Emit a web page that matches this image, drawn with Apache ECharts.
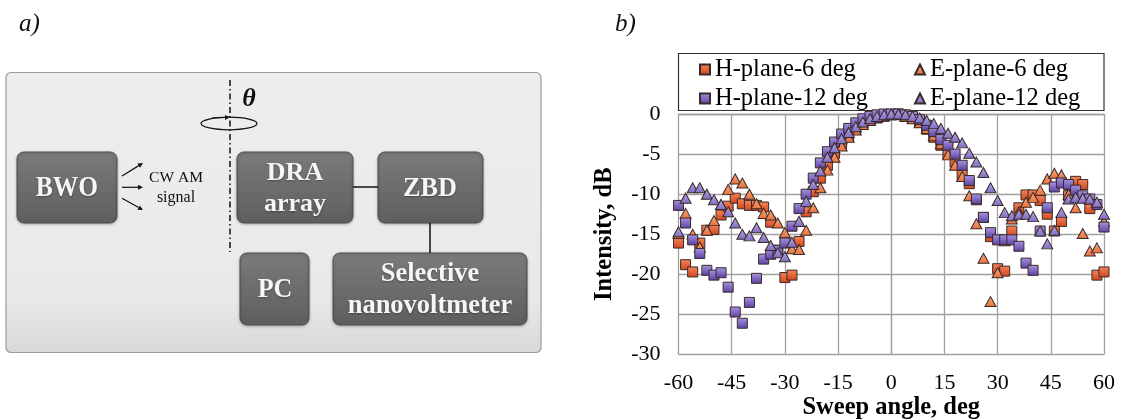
<!DOCTYPE html>
<html><head><meta charset="utf-8">
<script src="https://cdn.jsdelivr.net/npm/echarts@6/dist/echarts.min.js"></script>
<style>html,body{margin:0;padding:0;background:#fff}#c{width:1121px;height:419px}</style>
</head><body><div id="c"></div>
<script>
// ---- data (sweep angle in deg, intensity in dB) ----
const angles = [-60,-58,-56,-54,-52,-50,-48,-46,-44,-42,-40,-38,-36,-34,-32,-30,-28,-26,-24,-22,-20,-18,-16,-14,-12,-10,-8,-6,-4,-2,0,2,4,6,8,10,12,14,16,18,20,22,24,26,28,30,32,34,36,38,40,42,44,46,48,50,52,54,56,58,60];
const hPlane6 = [-16.1,-18.8,-19.7,-16.1,-14.5,-14.4,-12.6,-11.5,-10.5,-11.2,-11.4,-11.4,-11.6,-13.5,-17.0,-20.4,-20.1,-15.9,-12.2,-9.7,-8.0,-6.4,-4.9,-3.7,-2.7,-1.8,-1.1,-0.7,-0.5,-0.3,-0.1,0,-0.2,-0.5,-1.0,-1.9,-2.9,-3.9,-5.0,-6.0,-7.6,-8.7,-10.7,-12.9,-15.3,-19.3,-19.6,-14.6,-11.7,-10.1,-10.1,-10.8,-12.5,-14.6,-13.4,-10.2,-8.4,-8.8,-11.8,-20.1,-19.7];
const ePlane6 = [-14.9,-12.4,-15.0,-16.6,-14.5,-13.3,-11.3,-9.4,-8.1,-8.6,-10.0,-11.2,-12.4,-12.6,-13.6,-14.8,-16.8,-16.9,-14.5,-11.7,-9.2,-7.0,-5.4,-4.0,-2.9,-2.0,-1.3,-0.8,-0.4,-0.2,0,-0.1,-0.3,-0.6,-1.1,-1.8,-2.7,-3.7,-5.1,-6.4,-7.8,-10.2,-13.7,-18.0,-23.4,-19.8,-15.8,-13.1,-12.2,-11.0,-10.4,-9.5,-8.1,-7.4,-7.6,-10.0,-11.7,-14.9,-17.1,-16.7,-13.4];
const hPlane12 = [-11.4,-13.6,-15.7,-17.4,-19.5,-20.1,-19.8,-21.6,-24.7,-26.1,-23.5,-20.5,-18.1,-17.5,-17.0,-16.1,-14.0,-11.8,-10.0,-8.0,-6.1,-4.7,-3.5,-2.5,-1.8,-1.1,-0.6,-0.3,-0.1,0,0,0,-0.1,-0.3,-0.7,-1.4,-2.2,-3.2,-3.9,-5.0,-6.4,-8.3,-10.6,-12.9,-14.8,-15.7,-15.7,-15.7,-16.5,-18.6,-19.5,-14.6,-11.7,-9.1,-8.6,-8.8,-9.5,-10.2,-10.6,-11.3,-14.1];
const ePlane12 = [-14.7,-10.5,-9.2,-9.2,-10.0,-10.7,-11.3,-12.2,-13.6,-15.0,-15.2,-14.2,-15.4,-16.4,-17.3,-17.8,-16.0,-13.4,-10.9,-8.8,-7.1,-5.4,-4.2,-3.1,-2.3,-1.6,-1.0,-0.6,-0.3,-0.1,0,0,-0.1,-0.3,-0.5,-0.8,-1.2,-1.8,-2.4,-2.9,-3.6,-4.9,-6.0,-7.3,-9.2,-10.8,-12.3,-12.7,-12.5,-12.5,-12.8,-14.6,-16.2,-14.5,-12.3,-10.6,-10.4,-10.5,-10.6,-11.0,-12.5];
const seriesNames = ['H-plane-6 deg','E-plane-6 deg','H-plane-12 deg','E-plane-12 deg'];

const pairs = vals => angles.map((a, i) => [a, vals[i]]);
const grad = (c0, c1) => ({type:'linear', x:0, y:0, x2:0, y2:1, colorStops:[{offset:0,color:c0},{offset:1,color:c1}]});
const FONT = "'Liberation Serif', 'Times New Roman', serif";
const border = '#3a2a2a';

// ---- block diagram (panel a) ----
const boxFill = grad('#7b7b7b', '#5e5e5e');
function box(x, y, w, h) {
  return {type:'rect', shape:{x, y, width:w, height:h, r:7}, style:{fill:boxFill, stroke:'#4e4e4e', lineWidth:1, shadowBlur:3, shadowColor:'rgba(0,0,0,0.25)', shadowOffsetY:1}};
}
function label(t, x, y, size, sx) {
  return {type:'text', x, y, scaleX:sx, style:{text:t, x:0, y:0, font:'bold ' + size + 'px ' + FONT, fill:'#f6f6f6', textAlign:'center', textVerticalAlign:'middle', textShadowColor:'rgba(0,0,0,0.35)', textShadowBlur:2, textShadowOffsetY:1}};
}
function arrow(x1, y1, x2, y2) {
  const ang = Math.atan2(y2 - y1, x2 - x1), L = 5, W = 2.5;
  const bx = x2 - L * Math.cos(ang), by = y2 - L * Math.sin(ang);
  return [
    {type:'line', shape:{x1, y1, x2:bx, y2:by}, style:{stroke:'#111', lineWidth:1.2}},
    {type:'polygon', shape:{points:[[x2,y2],[bx - W*Math.sin(ang), by + W*Math.cos(ang)],[bx + W*Math.sin(ang), by - W*Math.cos(ang)]]}, style:{fill:'#111'}}
  ];
}
const graphics = [
  {type:'text', style:{text:'a)', x:19, y:24, font:'italic 25px ' + FONT, fill:'#111', textVerticalAlign:'middle'}},
  {type:'text', style:{text:'b)', x:615, y:24, font:'italic 25px ' + FONT, fill:'#111', textVerticalAlign:'middle'}},
  {type:'rect', shape:{x:6, y:72.5, width:535, height:280, r:5}, style:{fill:{type:'linear',x:0,y:0,x2:0,y2:1,colorStops:[{offset:0,color:'#eeeeee'},{offset:0.8,color:'#e9e9e9'},{offset:1,color:'#d8d8d8'}]}, stroke:'#9c9c9c', lineWidth:1.2}},
  box(17, 152, 100, 71),
  box(237, 152, 116, 71),
  box(378, 152, 105, 71),
  box(240, 253, 69, 72),
  box(333, 253, 194, 72),
  {type:'line', shape:{x1:353, y1:187, x2:378, y2:187}, style:{stroke:'#111', lineWidth:1.5}},
  {type:'line', shape:{x1:430, y1:223, x2:430, y2:253}, style:{stroke:'#111', lineWidth:1.5}},
  {type:'line', shape:{x1:230, y1:80, x2:230, y2:252}, style:{stroke:'#111', lineWidth:1.5, lineDash:[6,3,1.5,3]}},
  {type:'ellipse', shape:{cx:229, cy:123.5, rx:28, ry:6.3}, style:{fill:'none', stroke:'#111', lineWidth:1.2}},
  ...arrow(212, 118, 230, 117.3),
  {type:'text', style:{text:'θ', x:249, y:99, font:'italic bold 26px ' + FONT, fill:'#111', textAlign:'center', textVerticalAlign:'middle'}},
  label('BWO', 67, 188.5, 29, 0.88),
  label('DRA', 295, 173, 26, 1),
  label('array', 295, 204.5, 26, 1),
  label('ZBD', 430, 189, 27, 0.97),
  label('PC', 275, 290, 28, 0.93),
  label('Selective', 430, 274, 27, 0.98),
  label('nanovoltmeter', 430, 306, 27, 0.98),
  {type:'text', style:{text:'CW AM', x:176, y:178, font:'15.5px ' + FONT, fill:'#111', textAlign:'center', textVerticalAlign:'middle'}},
  {type:'text', style:{text:'signal', x:176, y:197.5, font:'16px ' + FONT, fill:'#111', textAlign:'center', textVerticalAlign:'middle'}},
  ...arrow(122, 176, 143, 163),
  ...arrow(122, 187.3, 143, 187.3),
  ...arrow(122, 198.3, 143, 210),
  // legend frame (panel b)
  {type:'rect', shape:{x:678.5, y:53.5, width:425.5, height:57}, style:{fill:'none', stroke:'#333', lineWidth:1.2}}
];

const styles = [
  {symbol:'rect', size:10, color:grad('#f5875a', '#d2441c')},
  {symbol:'triangle', size:[11,10], color:grad('#f9ac7c', '#e86f3a')},
  {symbol:'rect', size:10, color:grad('#a896e2', '#5a3f9f')},
  {symbol:'triangle', size:[11,10], color:grad('#b8ace6', '#7c6ac0')}
];
const seriesVals = [hPlane6, ePlane6, hPlane12, ePlane12];

const chart = echarts.init(document.getElementById('c'), null, {renderer:'canvas'});
const legendBase = {orient:'vertical', top:57, padding:0, itemGap:4, itemWidth:10, itemHeight:10,
  textStyle:{fontFamily:FONT, fontSize:24.5, lineHeight:24, color:'#000'}};
chart.setOption({
  backgroundColor:'#fff',
  animation:false,
  graphic:graphics,
  legend:[
    Object.assign({left:699, data:[{name:seriesNames[0], icon:'rect'},{name:seriesNames[2], icon:'rect'}]}, legendBase),
    Object.assign({left:914, data:[{name:seriesNames[1], icon:'triangle'},{name:seriesNames[3], icon:'triangle'}]}, legendBase)
  ],
  grid:{left:678.5, top:114, width:425.5, height:240.5, outerBoundsMode:'none', containLabel:false},
  xAxis:{type:'value', min:-60, max:60, interval:15,
    name:'Sweep angle, deg', nameLocation:'middle', nameGap:40.5, nameMoveOverlap:false,
    nameTextStyle:{fontFamily:FONT, fontSize:24.5, fontWeight:'bold', color:'#000'},
    axisLine:{show:true, lineStyle:{color:'#a0a0a0', width:1.3}}, axisTick:{show:false},
    axisLabel:{fontFamily:FONT, fontSize:22, color:'#000', margin:18},
    splitLine:{show:true, lineStyle:{color:'#a0a0a0', width:1.3}}},
  yAxis:{type:'value', min:-30, max:0, interval:5,
    name:'Intensity, dB', nameLocation:'middle', nameGap:61, nameMoveOverlap:false,
    nameTextStyle:{fontFamily:FONT, fontSize:24.5, fontWeight:'bold', color:'#000'},
    axisLine:{show:true, lineStyle:{color:'#a0a0a0', width:1.3}}, axisTick:{show:false},
    axisLabel:{fontFamily:FONT, fontSize:22, color:'#000', margin:18},
    splitLine:{show:true, lineStyle:{color:'#a0a0a0', width:1.3}}},
  series: seriesNames.map((n, i) => ({
    name:n, type:'scatter', data:pairs(seriesVals[i]),
    symbol:styles[i].symbol, symbolSize:styles[i].size, z:2 + i,
    itemStyle:{color:styles[i].color, borderColor:border, borderWidth:1, opacity:1},
    emphasis:{disabled:true}
  }))
});
</script></body></html>
